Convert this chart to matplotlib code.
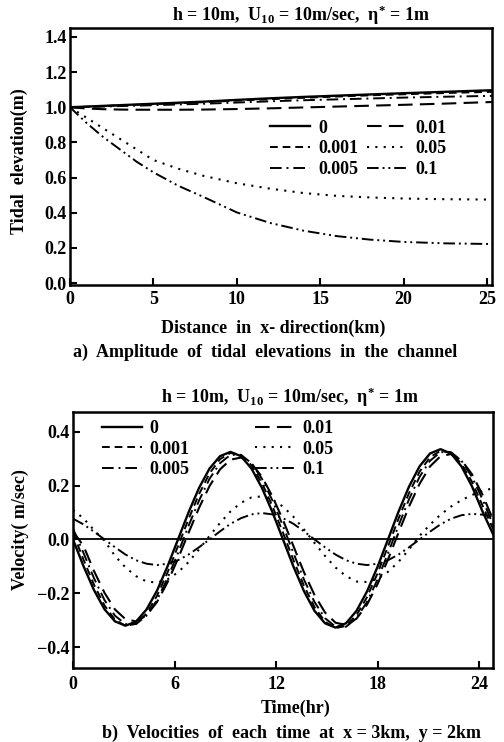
import matplotlib
matplotlib.use("Agg")
import matplotlib.pyplot as plt

plt.rcParams['font.family'] = ['Liberation Serif', 'DejaVu Serif']
plt.rcParams['font.weight'] = 'bold'
plt.rcParams['mathtext.fontset'] = 'custom'
plt.rcParams['mathtext.rm'] = 'Liberation Serif:bold'
plt.rcParams['mathtext.it'] = 'Liberation Serif:italic:bold'
plt.rcParams['mathtext.bf'] = 'Liberation Serif:bold'

# ---------------- data: (a) amplitude of tidal elevation ----------------
labels = ["0", "0.001", "0.005", "0.01", "0.05", "0.1"]
distance_km = [0, 1, 2, 3, 4, 5, 6.5, 8, 10, 12, 14, 16, 18, 20, 22.5, 25.3]
elev_0     = [1.000, 1.004, 1.008, 1.012, 1.016, 1.020, 1.026, 1.032, 1.042, 1.051, 1.059, 1.066, 1.073, 1.080, 1.088, 1.097]
elev_0001  = [1.000, 1.003, 1.007, 1.011, 1.014, 1.018, 1.023, 1.029, 1.038, 1.046, 1.054, 1.061, 1.068, 1.074, 1.081, 1.088]
elev_0005  = [1.000, 1.002, 1.004, 1.007, 1.009, 1.012, 1.016, 1.020, 1.027, 1.034, 1.040, 1.045, 1.050, 1.055, 1.060, 1.065]
elev_001   = [1.000, 0.993, 0.989, 0.987, 0.986, 0.986, 0.986, 0.987, 0.990, 0.994, 0.999, 1.004, 1.009, 1.014, 1.021, 1.030]
elev_005   = [1.000, 0.940, 0.880, 0.820, 0.760, 0.700, 0.650, 0.610, 0.568, 0.537, 0.512, 0.496, 0.487, 0.481, 0.477, 0.475]
elev_01    = [1.000, 0.910, 0.830, 0.760, 0.690, 0.630, 0.553, 0.490, 0.402, 0.342, 0.298, 0.267, 0.247, 0.234, 0.226, 0.222]
elev_series = [elev_0, elev_0001, elev_0005, elev_001, elev_005, elev_01]

# ---------------- data: (b) velocities at x=3km, y=2km ----------------
time_hr = [0.00, 0.62, 1.24, 1.86, 2.48, 3.10, 3.72, 4.34, 4.96, 5.58,
           6.20, 6.82, 7.44, 8.06, 8.68, 9.30, 9.92, 10.54, 11.16, 11.78,
           12.40, 13.02, 13.64, 14.26, 14.88, 15.50, 16.12, 16.74, 17.36, 17.98,
           18.60, 19.22, 19.84, 20.46, 21.08, 21.70, 22.32, 22.94, 23.56, 24.18,
           24.80]
vel_0 = [0.000, -0.099, -0.188, -0.259, -0.304, -0.320, -0.305, -0.260, -0.190, -0.100,
         0.000, 0.100, 0.191, 0.263, 0.309, 0.325, 0.309, 0.263, 0.191, 0.101,
         0.000, -0.101, -0.192, -0.265, -0.311, -0.327, -0.311, -0.265, -0.193, -0.102,
         0.000, 0.103, 0.196, 0.271, 0.319, 0.335, 0.319, 0.271, 0.197, 0.104,
         0.020]
vel_0001 = [0.025, -0.075, -0.168, -0.245, -0.298, -0.321, -0.313, -0.275, -0.209, -0.123,
            -0.025, 0.075, 0.168, 0.245, 0.298, 0.321, 0.313, 0.275, 0.209, 0.123,
            0.025, -0.077, -0.172, -0.251, -0.305, -0.329, -0.321, -0.281, -0.214, -0.126,
            -0.026, 0.077, 0.172, 0.251, 0.305, 0.329, 0.321, 0.281, 0.214, 0.126,
            0.040]
vel_0005 = [0.040, -0.050, -0.144, -0.225, -0.283, -0.314, -0.314, -0.283, -0.225, -0.144,
            -0.050, 0.050, 0.144, 0.225, 0.283, 0.314, 0.314, 0.283, 0.225, 0.144,
            0.050, -0.051, -0.149, -0.232, -0.292, -0.324, -0.324, -0.292, -0.232, -0.149,
            -0.051, 0.051, 0.149, 0.232, 0.292, 0.324, 0.324, 0.292, 0.232, 0.149,
            0.055]
vel_001 = [0.030, -0.024, -0.117, -0.198, -0.260, -0.296, -0.304, -0.282, -0.232, -0.159,
           -0.071, 0.024, 0.117, 0.198, 0.260, 0.296, 0.304, 0.282, 0.232, 0.159,
           0.072, -0.025, -0.122, -0.206, -0.271, -0.309, -0.317, -0.294, -0.242, -0.166,
           -0.074, 0.025, 0.122, 0.206, 0.271, 0.309, 0.317, 0.294, 0.242, 0.166,
           0.074]
vel_005 = [0.110, 0.078, 0.035, -0.005, -0.061, -0.104, -0.136, -0.156, -0.160, -0.148,
           -0.122, -0.084, -0.037, 0.013, 0.061, 0.104, 0.136, 0.156, 0.160, 0.148,
           0.122, 0.084, 0.037, -0.013, -0.061, -0.104, -0.136, -0.156, -0.158, -0.146,
           -0.120, -0.083, -0.037, 0.013, 0.055, 0.092, 0.122, 0.146, 0.165, 0.180,
           0.190]
vel_01 = [0.077, 0.056, 0.029, 0.000, -0.029, -0.056, -0.077, -0.090, -0.095, -0.090,
          -0.077, -0.056, -0.029, 0.000, 0.030, 0.058, 0.079, 0.093, 0.098, 0.093,
          0.079, 0.058, 0.030, 0.000, -0.029, -0.056, -0.077, -0.090, -0.095, -0.090,
          -0.077, -0.056, -0.029, 0.000, 0.029, 0.056, 0.077, 0.090, 0.095, 0.092,
          0.085]
vel_series = [vel_0, vel_0001, vel_0005, vel_001, vel_005, vel_01]

# ---------------- styles ----------------
styles = ['-', (0, (4, 2.5)), (0, (6, 2.5, 1, 2.5)), (0, (7, 3.5)), (0, (1, 3)),
          (0, (6, 2, 1, 2, 1, 2))]
lws = [1.7, 1.4, 1.4, 1.5, 1.5, 1.4]
FS = 13

fig = plt.figure(figsize=(5.04, 7.42), dpi=100)
W, H = 504.0, 742.0

def style_axes(ax, xpad):
    for s in ax.spines.values():
        s.set_linewidth(1.8)
    ax.tick_params(direction='in', length=5, width=1.5, labelsize=FS)
    ax.tick_params(axis='y', pad=2.5)
    ax.tick_params(axis='x', pad=xpad)
    for lab in ax.get_xticklabels() + ax.get_yticklabels():
        lab.set_fontweight('bold')

# ---- panel a ----
ax1 = fig.add_axes([70 / W, 1 - 285 / H, 422 / W, 257 / H])
for ys, ls, lw, lab in zip(elev_series, styles, lws, labels):
    ax1.plot(distance_km, ys, color='black', linestyle=ls, linewidth=lw, label=lab)
ax1.set_xlim(0, 25.3)
ax1.set_ylim(-0.011, 1.451)
ax1.set_xticks([0, 5, 10, 15, 20, 25])
ax1.set_yticks([0.0, 0.2, 0.4, 0.6, 0.8, 1.0, 1.2, 1.4])
ax1.set_yticklabels(['0.0', '0.2', '0.4', '0.6', '0.8', '1.0', '1.2', '1.4'])
style_axes(ax1, 4)
h, l = ax1.get_legend_handles_labels()
ax1.legend(h, l, ncol=2, loc='upper left', bbox_to_anchor=(0.475, 0.643),
           frameon=False, fontsize=FS, handlelength=2.2, handletextpad=0.45,
           columnspacing=0.5, labelspacing=0.2, borderpad=0, borderaxespad=0)

fig.text(301 / W, 1 - 15 / H, "h = 10m,  U$_{10}$ = 10m/sec,  η$^{*}$ = 1m",
         ha='center', va='center', fontsize=FS, fontweight='bold')
fig.text(19 / W, 1 - 161 / H, "Tidal  elevation(m)", rotation=90,
         ha='center', va='center', fontsize=FS, fontweight='bold')
fig.text(273 / W, 1 - 328 / H, "Distance  in  x- direction(km)",
         ha='center', va='center', fontsize=FS, fontweight='bold')
fig.text(265 / W, 1 - 352 / H, "a)  Amplitude  of  tidal  elevations  in  the  channel",
         ha='center', va='center', fontsize=FS, fontweight='bold')

# ---- panel b ----
ax2 = fig.add_axes([73 / W, 1 - 668 / H, 420 / W, 256 / H])
ax2.axhline(0, color='black', linewidth=1.3)
for ys, ls, lw, lab in zip(vel_series, styles, lws, labels):
    ax2.plot(time_hr, ys, color='black', linestyle=ls, linewidth=lw, label=lab)
ax2.set_xlim(0, 24.8)
ax2.set_ylim(-0.477, 0.473)
ax2.set_xticks([0, 6, 12, 18, 24])
ax2.set_yticks([-0.4, -0.2, 0.0, 0.2, 0.4])
ax2.set_yticklabels(['\u22120.4', '\u22120.2', '0.0', '0.2', '0.4'])
style_axes(ax2, 6)
h, l = ax2.get_legend_handles_labels()
ax2.legend(h, l, ncol=2, loc='upper left', bbox_to_anchor=(0.069, 0.969),
           frameon=False, fontsize=FS, handlelength=2.2, handletextpad=0.45,
           columnspacing=3.6, labelspacing=0.2, borderpad=0, borderaxespad=0)

fig.text(290 / W, 1 - 397 / H, "h = 10m,  U$_{10}$ = 10m/sec,  η$^{*}$ = 1m",
         ha='center', va='center', fontsize=FS, fontweight='bold')
fig.text(20 / W, 1 - 530 / H, "Velocity( m/sec)", rotation=90,
         ha='center', va='center', fontsize=FS, fontweight='bold')
fig.text(296 / W, 1 - 708 / H, "Time(hr)",
         ha='center', va='center', fontsize=FS, fontweight='bold')
fig.text(291 / W, 1 - 733 / H, "b)  Velocities  of  each  time  at  x = 3km,  y = 2km",
         ha='center', va='center', fontsize=FS, fontweight='bold')

fig.savefig("out.png", dpi=100)
